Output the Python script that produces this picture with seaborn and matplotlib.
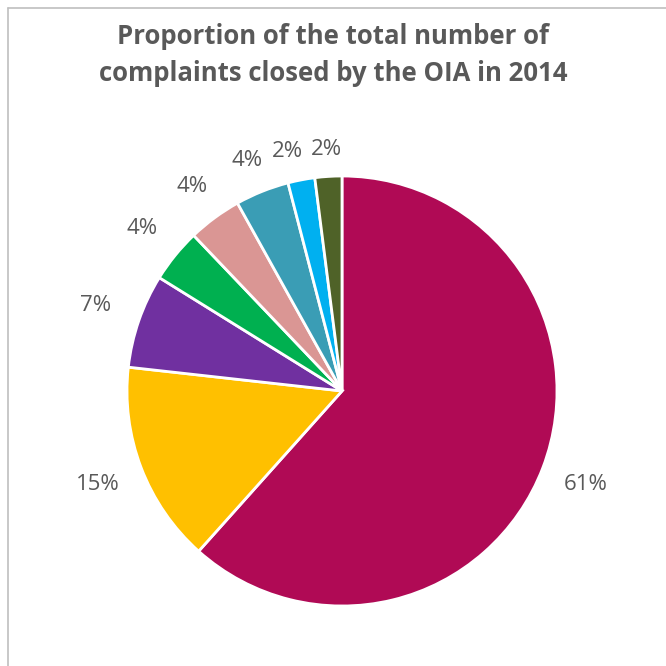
import matplotlib
matplotlib.use("Agg")
import numpy as np
import matplotlib.pyplot as plt
import seaborn as sns
from matplotlib.lines import Line2D

categories = ["A", "B", "C", "D", "E", "F", "G", "H"]
values = [61, 15, 7, 4, 4, 4, 2, 2]
pct_labels = ["61%", "15%", "7%", "4%", "4%", "4%", "2%", "2%"]
colors = ["#B00A55", "#FFC000", "#7030A0", "#00B050", "#DA9694", "#3A9DB5", "#00B0F0", "#4F6228"]
title = "Proportion of the total number of\ncomplaints closed by the OIA in 2014"

sns.set_theme(style="white")
plt.rcParams["font.family"] = ["Open Sans", "DejaVu Sans"]

W = H = 666
fig = plt.figure(figsize=(W / 100, H / 100), dpi=100)
fig.patch.set_facecolor("white")

cx, cy, R = 342, 391, 215
ax = fig.add_axes([(cx - R) / W, (H - cy - R) / H, 2 * R / W, 2 * R / H])
wedges, texts = ax.pie(
    values,
    labels=pct_labels,
    colors=colors,
    startangle=90,
    counterclock=False,
    labeldistance=1.2,
    radius=1,
    wedgeprops=dict(edgecolor="white", linewidth=2),
    textprops=dict(color="#595959", fontsize=16),
)
ax.set_xlim(-1, 1)
ax.set_ylim(-1, 1)
ax.set_aspect("equal")
ax.axis("off")


def place(t, ang):
    c, s = np.cos(ang), np.sin(ang)
    r = 1.12 + 0.10 * abs(c)
    t.set_position((r * c, r * s))
    t.set_horizontalalignment("center")
    t.set_verticalalignment("center")


angles = [np.deg2rad(0.5 * (w.theta1 + w.theta2)) for w in wedges]
for t, a in zip(texts, angles):
    place(t, a)

# simple overlap avoidance: walk from the last (top) label backwards,
# rotating labels counter-clockwise until they clear their neighbour
renderer = fig.canvas.get_renderer()
pad = 8
for i in range(len(texts) - 2, 0, -1):
    prev = texts[i + 1].get_window_extent(renderer).expanded(1, 1)
    for _ in range(200):
        bb = texts[i].get_window_extent(renderer)
        if bb.x1 + pad <= prev.x0 or bb.y1 + 2 <= prev.y0 or bb.y0 >= prev.y1 + 2 or bb.x0 >= prev.x1 + pad:
            break
        angles[i] += np.deg2rad(0.25)
        place(texts[i], angles[i])

fig.text(333 / W, 1 - 55 / H, title, ha="center", va="center",
         fontsize=18.5, fontweight="bold", color="#595959", linespacing=1.52)

# chart frame (top and left edges visible)
fig.add_artist(Line2D([8 / W, 1], [1 - 8 / H, 1 - 8 / H], color="#BFBFBF", lw=1.2, transform=fig.transFigure))
fig.add_artist(Line2D([8 / W, 8 / W], [0, 1 - 8 / H], color="#BFBFBF", lw=1.2, transform=fig.transFigure))

fig.savefig("out.png", dpi=100, facecolor="white")
